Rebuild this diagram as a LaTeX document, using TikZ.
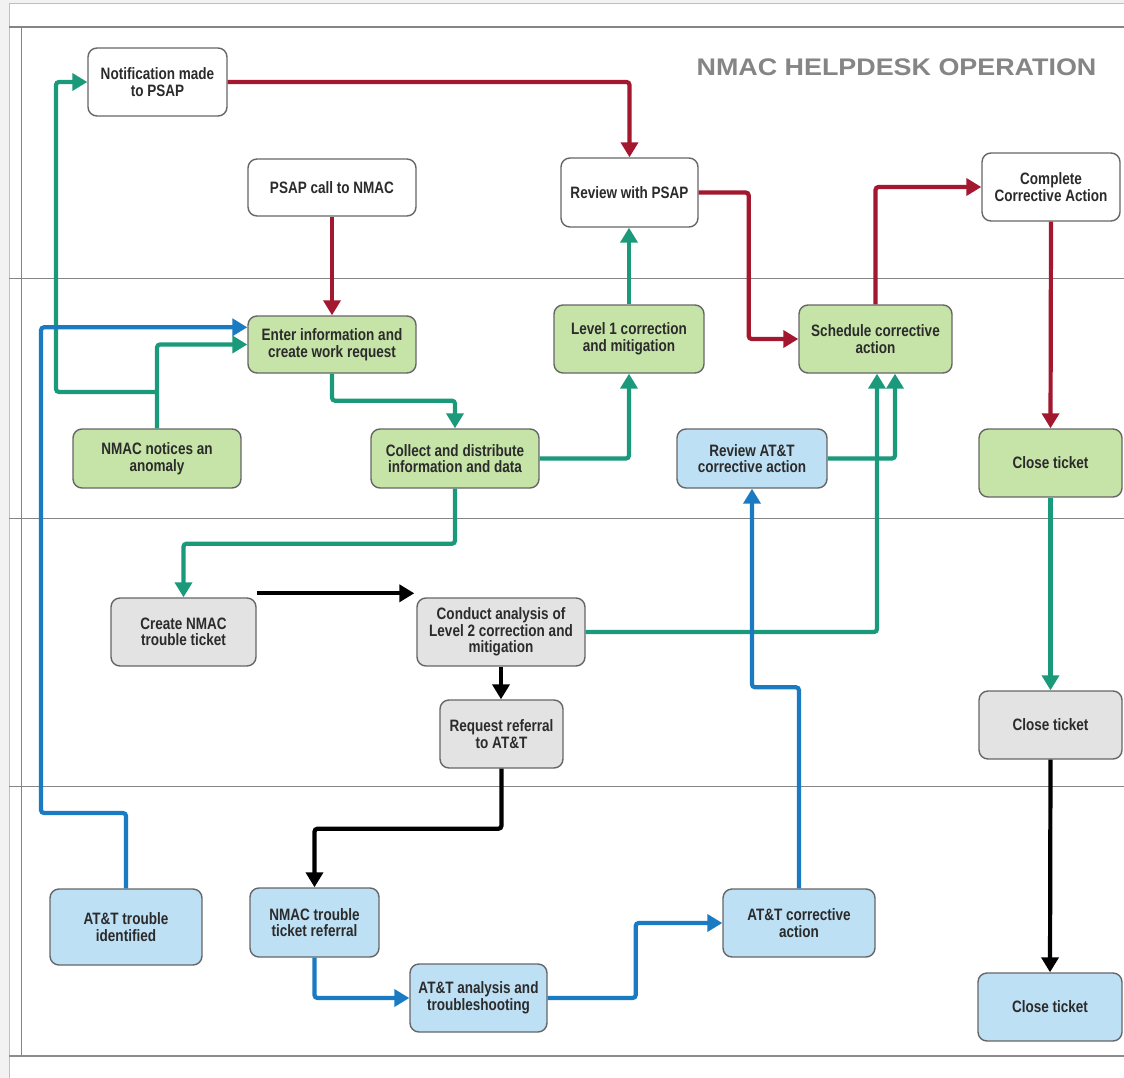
\documentclass[tikz,border=0pt]{standalone}
\usepackage{fontspec}
\setmainfont{Liberation Sans}[FakeStretch=0.82]
\newfontfamily\titlefont{Liberation Sans}
\usetikzlibrary{arrows.meta,calc}
\definecolor{cred}{HTML}{A3182F}
\definecolor{cgreen}{HTML}{1A9A7A}
\definecolor{cblue}{HTML}{1B7BC2}
\definecolor{fgreen}{HTML}{C6E4A8}
\definecolor{fblue}{HTML}{BEE0F5}
\definecolor{fgray}{HTML}{E3E3E3}
\definecolor{txt}{HTML}{2B2B2B}
\definecolor{bord}{HTML}{666666}
\definecolor{frame}{HTML}{858585}
\tikzset{
  box/.style={draw=bord, line width=1.4pt, rounded corners=9pt, inner sep=0pt,
    align=center, text=txt, font=\fontsize{16.5}{16.5}\selectfont\bfseries},
  wbox/.style={box, fill=white},
  gbox/.style={box, fill=fgreen},
  bbox/.style={box, fill=fblue},
  ybox/.style={box, fill=fgray},
  conn/.style={line width=4.2pt, rounded corners=3pt, -{Triangle[length=15pt,width=17pt]}},
  rc/.style={conn, draw=cred},
  gc/.style={conn, draw=cgreen},
  bc/.style={conn, draw=cblue},
  kc/.style={conn, draw=black},
}
\begin{document}
\begin{tikzpicture}[x=1pt,y=-1pt]
\useasboundingbox (0,0) rectangle (1124,1078);
\fill[white] (0,0) rectangle (1124,1078);
\fill[black!5] (0,0) rectangle (9,1078);
\fill[black!5] (9,0) rectangle (1124,4);
% frame
\draw[black!25, line width=1pt] (9,4) -- (1124,4);
\draw[black!25, line width=1pt] (9,4) -- (9,1078);
\draw[frame, line width=2pt] (9,27) -- (1124,27);
\draw[frame, line width=1pt] (21,27) -- (21,1056);
\draw[frame, line width=1pt] (9,278) -- (1124,278);
\draw[frame, line width=1pt] (9,518) -- (1124,518);
\draw[frame, line width=1pt] (9,786) -- (1124,786);
\draw[black!45, line width=2pt] (9,1056) -- (1124,1056);
% title
\node[text=black!48, font=\titlefont\fontsize{24}{24}\selectfont\bfseries] (title) at (896.5,67)
  {\scalebox{1.12}[1]{NMAC HELPDESK OPERATION}};
% nodes
\node[wbox, minimum width=139pt, minimum height=68pt] (notif) at (157.5,82) {Notification made\\to PSAP};
\node[wbox, minimum width=168pt, minimum height=57pt] (psap) at (332,187.5) {PSAP call to NMAC};
\node[wbox, minimum width=137pt, minimum height=69pt] (review) at (629.5,192.5) {Review with PSAP};
\node[wbox, minimum width=138pt, minimum height=68pt] (complete) at (1051,187) {Complete\\Corrective Action};
\node[gbox, minimum width=168pt, minimum height=57pt] (enter) at (332,344.5) {Enter information and\\create work request};
\node[gbox, minimum width=150pt, minimum height=68pt] (level1) at (629,339) {Level 1 correction\\and mitigation};
\node[gbox, minimum width=153pt, minimum height=68pt] (sched) at (875.5,339) {Schedule corrective\\action};
\node[gbox, minimum width=168pt, minimum height=59pt] (notices) at (157,458.5) {NMAC notices an\\anomaly};
\node[gbox, minimum width=168pt, minimum height=59pt] (collect) at (455,458.5) {Collect and distribute\\information and data};
\node[bbox, minimum width=150pt, minimum height=59pt] (reviewatt) at (752,458.5) {Review AT\&T\\corrective action};
\node[gbox, minimum width=143pt, minimum height=68pt] (close1) at (1050.5,463) {Close ticket};
\node[ybox, minimum width=145pt, minimum height=68pt] (create) at (183.5,632) {Create NMAC\\trouble ticket};
\node[ybox, minimum width=168pt, minimum height=68pt] (conduct) at (501,632) {Conduct analysis of\\Level 2 correction and\\mitigation};
\node[ybox, minimum width=123pt, minimum height=68pt] (request) at (501.5,734) {Request referral\\to AT\&T};
\node[ybox, minimum width=143pt, minimum height=68pt] (close2) at (1050.5,725) {Close ticket};
\node[bbox, minimum width=152pt, minimum height=76pt] (atttrouble) at (126,927) {AT\&T trouble\\identified};
\node[bbox, minimum width=129pt, minimum height=69pt] (referral) at (314.5,922.5) {NMAC trouble\\ticket referral};
\node[bbox, minimum width=137pt, minimum height=68pt] (analysis) at (478.5,998) {AT\&T analysis and\\troubleshooting};
\node[bbox, minimum width=152pt, minimum height=68pt] (corrective) at (799,923) {AT\&T corrective\\action};
\node[bbox, minimum width=144pt, minimum height=68pt] (close3) at (1050,1007) {Close ticket};
% helper coordinates
\coordinate (gj) at (157,392);
\coordinate (gl) at (56,392);
\coordinate (bl) at (41,813);
% red
\draw[rc] (notif.east) -| (review.north);
\draw[rc] (psap.south) -- (enter.north);
\draw[rc] (review.east) -- ++(50,0) |- (sched.west);
\draw[rc] (sched.north) |- (complete.west);
\draw[rc] (complete.south) -- (close1.north);
% green
\draw[gc] (notices.north) |- (enter.west);
\draw[gc] (gj) -- (gl) |- (notif.west);
\draw[gc] (enter.south) -- ++(0,27) -| (collect.north);
\draw[gc] (collect.east) -| (level1.south);
\draw[gc] (level1.north) -- (level1.north |- review.south);
\draw[gc] (collect.south) -- ++(0,55) -| (create.north);
\draw[gc] (conduct.east) -| ($(sched.south)+(1.5,0)$);
\draw[gc] (reviewatt.east) -| ($(sched.south)+(19.5,0)$);
\draw[gc] (close1.south) -- (close2.north);
% blue
\draw[bc] (atttrouble.north) |- (bl) |- ($(enter.north west)+(0,12)$);
\draw[bc] (referral.south) |- (analysis.west);
\draw[bc] (analysis.east) -- ++(88,0) |- (corrective.west);
\draw[bc] (corrective.north) -- ++(0,-201) -| (reviewatt.south);
% black
\draw[kc] ($(create.north east)+(0,-4)$) -- ($(conduct.north west)+(-2,-4)$);
\draw[kc] (conduct.south) -- (conduct.south |- request.north);
\draw[kc] (request.south) -- ++(0,60) -| (referral.north);
\draw[kc] (close2.south) -- (close3.north);
\end{tikzpicture}
\end{document}
